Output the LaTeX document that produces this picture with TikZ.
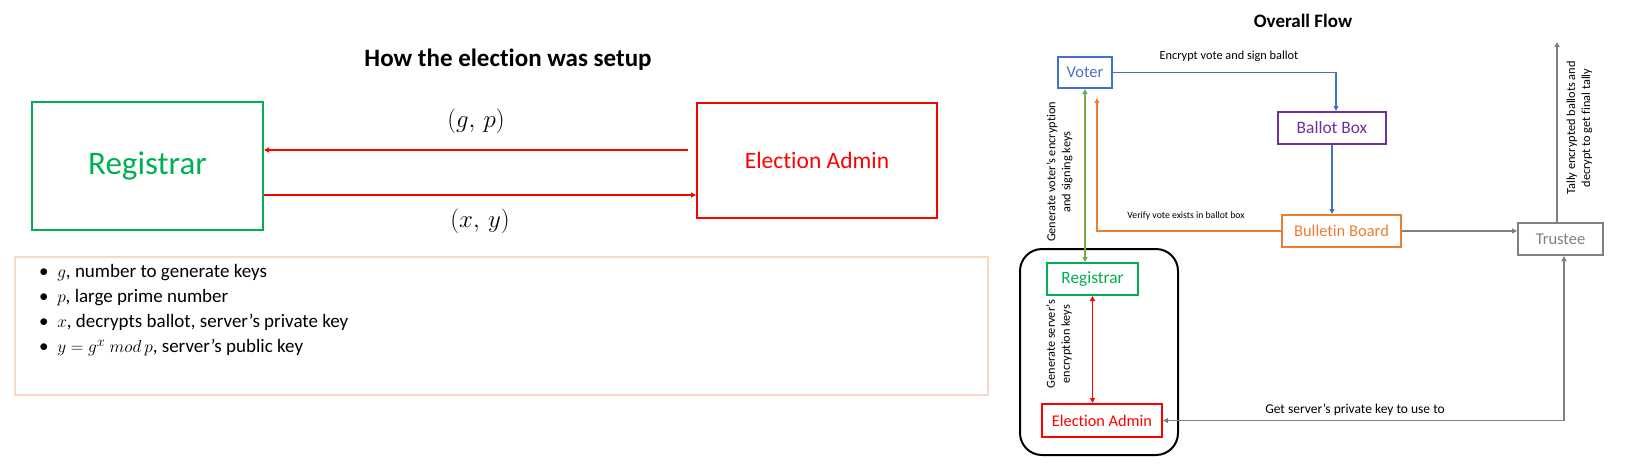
\documentclass[tikz,border=0pt]{standalone}
\usepackage{fontspec}
\setmainfont{Carlito}[Ligatures=NoCommon]
\usetikzlibrary{arrows.meta,calc}
\definecolor{cgreen}{HTML}{00B050}
\definecolor{clgreen}{HTML}{70AD47}
\definecolor{cred}{HTML}{FF0000}
\definecolor{cblue}{HTML}{4472C4}
\definecolor{cpurple}{HTML}{7030A0}
\definecolor{corange}{HTML}{ED7D31}
\definecolor{cgray}{HTML}{7F7F7F}
\definecolor{cpeach}{HTML}{F9D9C4}
\tikzset{
  bigbox/.style={draw, line width=2pt, inner sep=0pt},
  smallbox/.style={draw, line width=2pt, inner sep=0pt, font=\fontsize{16.5}{20}\selectfont},
  tip/.style={-{Triangle[length=5pt,width=5pt]}},
  dtip/.style={{Triangle[length=5pt,width=5pt]}-{Triangle[length=5pt,width=5pt]}},
  lbl/.style={inner sep=0pt, font=\fontsize{12.3}{15}\selectfont, align=center},
}
\begin{document}
\begin{tikzpicture}[x=1pt,y=-1pt]
\useasboundingbox (0,0) rectangle (1629,475);
% ---------------- left part ----------------
\node[font=\fontsize{25}{29}\selectfont\bfseries] (title1) at (508,60) {How the election was setup};
\node[bigbox, draw=cgreen, text=cgreen, minimum width=231pt, minimum height=128pt,
      font=\fontsize{33}{37}\selectfont] (reg) at (147.5,166) {Registrar};
\node[bigbox, draw=cred, text=cred, minimum width=240pt, minimum height=115pt,
      font=\fontsize{23.5}{27}\selectfont] (ea) at (817,160.5) {Election Admin};
\draw[tip, cred, line width=2.2pt] ([xshift=-8pt]ea.west |- 0,150) -- (reg.east |- 0,150)
  node[midway, above=12pt, text=black, font=\fontsize{26}{30}\selectfont] (gp) {$(g,\,p)$};
\draw[tip, cred, line width=2.2pt] (reg.east |- 0,195) -- (ea.west |- 0,195)
  node[midway, below=9pt, text=black, font=\fontsize{26}{30}\selectfont] (xy) {$(x,\,y)$};
\node[draw=cpeach, line width=1.5pt, minimum width=973pt, minimum height=138pt, inner sep=0pt] (legend) at (501.5,326) {};
\node[anchor=north west, align=left, inner sep=0pt, font=\fontsize{19}{25}\selectfont] (items) at (39,264)
  {\textbullet\ \ $g$, number to generate keys\\
   \textbullet\ \ $p$, large prime number\\
   \textbullet\ \ $x$, decrypts ballot, server’s private key\\
   \textbullet\ \ $y=g^{x}\ mod\,p$, server’s public key};
% ---------------- right part ----------------
\node[font=\fontsize{19}{23}\selectfont\bfseries] (title2) at (1303,21) {Overall Flow};
\node[smallbox, draw=cblue, text=cblue, minimum width=54pt, minimum height=31pt] (voter) at (1085,72.5) {Voter};
\node[smallbox, draw=cpurple, text=cpurple, minimum width=108pt, minimum height=32pt, font=\fontsize{17.4}{20}\selectfont] (ballot) at (1332,128) {Ballot Box};
\node[smallbox, draw=corange, text=corange, minimum width=119pt, minimum height=32pt] (bb) at (1341.5,231) {Bulletin Board};
\node[smallbox, draw=cgray, text=cgray, minimum width=85pt, minimum height=32pt] (trustee) at (1560.5,239) {Trustee};
\node[draw, line width=2pt, rounded corners=22pt, minimum width=158pt, minimum height=206pt, inner sep=0pt] (group) at (1099,352) {};
\node[smallbox, draw=cgreen, text=cgreen, minimum width=91pt, minimum height=32pt, font=\fontsize{17.3}{20}\selectfont] (regs) at (1092.5,279) {Registrar};
\node[smallbox, draw=cred, text=cred, minimum width=120pt, minimum height=33pt, font=\fontsize{16.3}{20}\selectfont] (eas) at (1102,420.5) {Election Admin};
\coordinate (vin) at (1097,98);
\coordinate (tallyend) at (1557,42);
% connectors
\draw[tip, cblue, line width=1.6pt] (voter.east) -| ([xshift=4pt]ballot.north);
\draw[tip, cblue, line width=1.6pt] (ballot.south) -- (ballot.south |- bb.north);
\draw[tip, corange, line width=1.6pt] (bb.west) -| (vin);
\draw[dtip, clgreen, line width=1.6pt] (voter.south) -- (voter.south |- regs.north);
\draw[dtip, cred, line width=1.6pt] (regs.south) -- (regs.south |- eas.north);
\draw[tip, cgray, line width=1.6pt] (bb.east) -- (trustee.west |- bb.east);
\draw[tip, cgray, line width=1.6pt] (tallyend |- trustee.north) -- (tallyend);
\draw[dtip, cgray, line width=1.6pt] (eas.east) -| ([xshift=3.5pt]trustee.south);
% labels
\node[lbl] (l1) at (1229,56) {Encrypt vote and sign ballot};
\node[lbl, font=\fontsize{9.7}{12}\selectfont] (l2) at (1186,216) {Verify vote exists in ballot box};
\node[lbl, font=\fontsize{13.5}{16}\selectfont] (l3) at (1355,410) {Get server’s private key to use to};
\node[lbl, rotate=90] (l4) at (1059.5,172) {Generate voter’s encryption\\and signing keys};
\node[lbl, rotate=90] (l5) at (1059,344) {Generate server’s\\encryption keys};
\node[lbl, rotate=90] (l6) at (1579.5,128) {Tally encrypted ballots and\\decrypt to get final tally};
\end{tikzpicture}
\end{document}
